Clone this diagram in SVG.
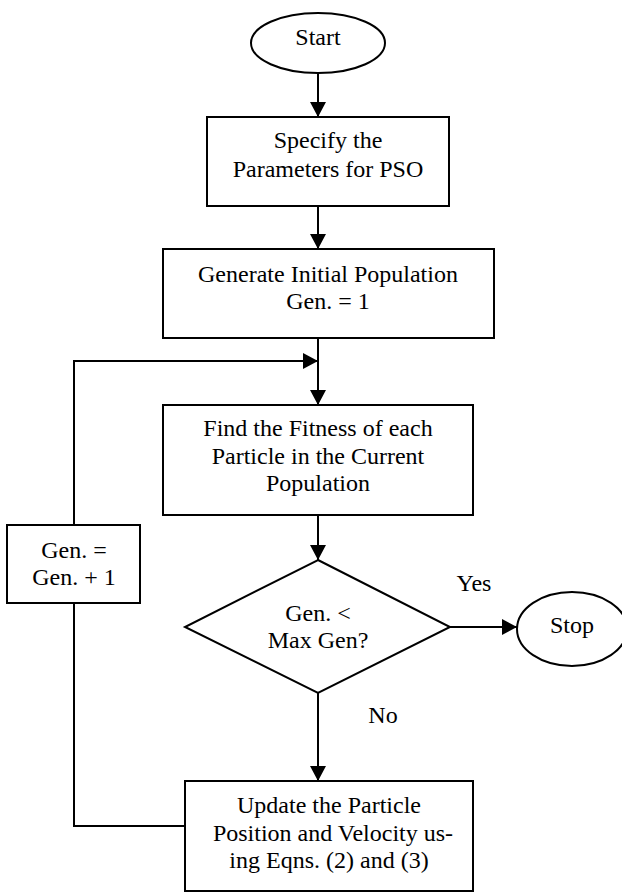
<svg xmlns="http://www.w3.org/2000/svg" width="622" height="895" viewBox="0 0 622 895">
<defs>
<marker id="ah" viewBox="0 0 15 16" refX="15" refY="8" markerWidth="15" markerHeight="16" markerUnits="userSpaceOnUse" orient="auto">
<path d="M0,0 L15,8 L0,16 Z" fill="#000"/>
</marker>
<style>
.s{fill:#fff;stroke:#000;stroke-width:2}
.c{fill:none;stroke:#000;stroke-width:2}
text{font-family:"Liberation Serif","Times New Roman",serif;font-size:24px;fill:#000;text-anchor:middle}
</style>
</defs>
<rect width="622" height="895" fill="#fff"/>
<g id="connectors">
<path class="c" d="M318,73 V117" marker-end="url(#ah)"/>
<path class="c" d="M318,206 V249" marker-end="url(#ah)"/>
<path class="c" d="M318,338 V405" marker-end="url(#ah)"/>
<path class="c" d="M318,515 V560" marker-end="url(#ah)"/>
<path class="c" d="M450,627 H517" marker-end="url(#ah)"/>
<path class="c" d="M318,693 V781" marker-end="url(#ah)"/>
<path class="c" d="M185,826 H74 V603"/>
<path class="c" d="M74,525 V361 H318" marker-end="url(#ah)"/>
<text x="474" y="591">Yes</text>
<text x="383" y="723">No</text>
</g>
<g id="start">
<ellipse class="s" cx="318" cy="43" rx="67" ry="30"/>
<text x="318" y="45">Start</text>
</g>
<g id="specify">
<rect class="s" x="207" y="117" width="242" height="89"/>
<text x="328" y="148">Specify the</text>
<text x="328" y="177">Parameters for PSO</text>
</g>
<g id="generate">
<rect class="s" x="163" y="249" width="331" height="89"/>
<text x="328" y="282">Generate Initial Population</text>
<text x="328" y="309">Gen. = 1</text>
</g>
<g id="fitness">
<rect class="s" x="163" y="405" width="310" height="110"/>
<text x="318" y="436">Find the Fitness of each</text>
<text x="318" y="464">Particle in the Current</text>
<text x="318" y="491">Population</text>
</g>
<g id="decision">
<polygon class="s" points="318,560 450,627 318,693 185,627"/>
<text x="318" y="621">Gen. &lt;</text>
<text x="318" y="648">Max Gen?</text>
</g>
<g id="stop">
<ellipse class="s" cx="572" cy="629" rx="55" ry="37"/>
<text x="572" y="633">Stop</text>
</g>
<g id="update">
<rect class="s" x="185" y="781" width="288" height="110"/>
<text x="329" y="813">Update the Particle</text>
<text x="333" y="841">Position and Velocity us-</text>
<text x="329" y="868">ing Eqns. (2) and (3)</text>
</g>
<g id="increment">
<rect class="s" x="7" y="525" width="133" height="78"/>
<text x="74" y="558">Gen. =</text>
<text x="74" y="585">Gen. + 1</text>
</g>
</svg>
